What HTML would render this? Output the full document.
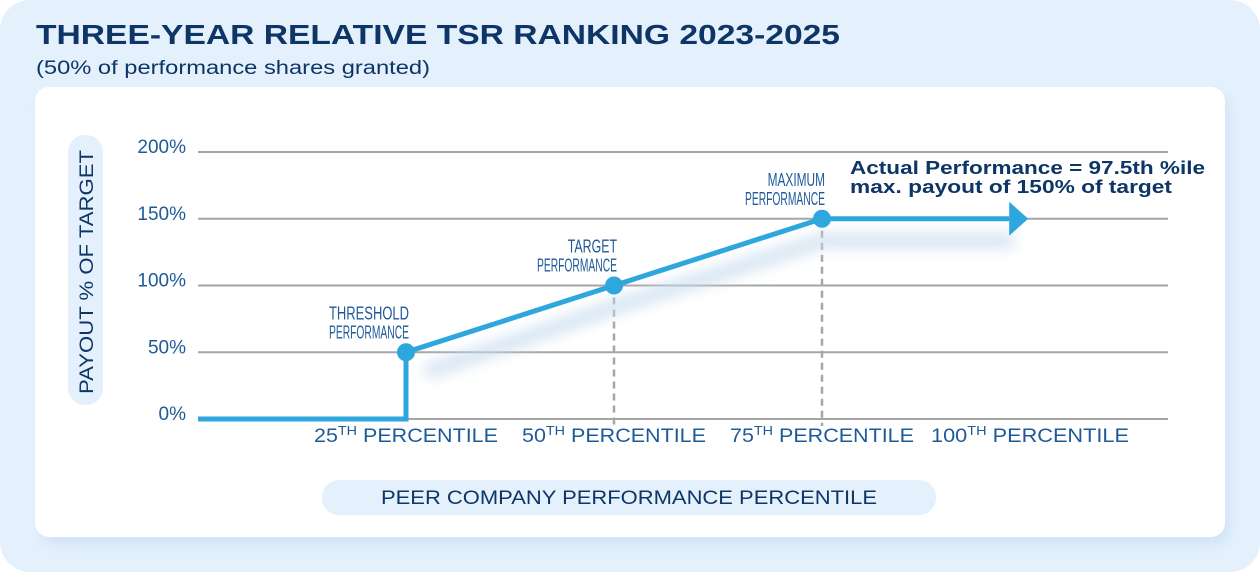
<!DOCTYPE html>
<html><head><meta charset="utf-8"><style>
html,body{margin:0;padding:0;background:#fff;}
body{width:1260px;height:572px;overflow:hidden;font-family:"Liberation Sans",sans-serif;}
</style></head><body>
<svg id="c" width="1260" height="572" xmlns="http://www.w3.org/2000/svg">
<defs>
<filter id="blur" x="-20%" y="-50%" width="140%" height="200%"><feGaussianBlur stdDeviation="7"/></filter>
<filter id="sh" x="-5%" y="-5%" width="110%" height="120%"><feGaussianBlur stdDeviation="6"/></filter>
</defs>
<rect x="0" y="0" width="1260" height="572" rx="30" fill="#e4f1fc"/>
<rect x="40" y="95" width="1190" height="450" rx="14" fill="#c9dff2" filter="url(#sh)" opacity="0.7"/>
<rect x="35" y="87" width="1190" height="450" rx="14" fill="#ffffff"/>
<text x="36" y="44" font-size="28" font-weight="bold" fill="#0d3566" textLength="804" lengthAdjust="spacingAndGlyphs">THREE-YEAR RELATIVE TSR RANKING 2023-2025</text>
<text x="36" y="74" font-size="19" fill="#0d3566" textLength="394" lengthAdjust="spacingAndGlyphs">(50% of performance shares granted)</text>
<rect x="68" y="135" width="35" height="270" rx="17" fill="#e4f1fc"/>
<text transform="translate(93,272) rotate(-90)" text-anchor="middle" font-size="19" fill="#0d3566" textLength="244" lengthAdjust="spacingAndGlyphs">PAYOUT % OF TARGET</text>
<rect x="322" y="480" width="614" height="35" rx="17" fill="#e4f1fc"/>
<text x="629" y="504" text-anchor="middle" font-size="19" fill="#0d3566" textLength="496" lengthAdjust="spacingAndGlyphs">PEER COMPANY PERFORMANCE PERCENTILE</text>
<g id="grid"></g><g id="marks"></g>
<text x="850" y="174" font-size="18" font-weight="bold" fill="#0d3566" textLength="355" lengthAdjust="spacingAndGlyphs">Actual Performance = 97.5th %ile</text>
<text x="850" y="193" font-size="18" font-weight="bold" fill="#0d3566" textLength="322" lengthAdjust="spacingAndGlyphs">max. payout of 150% of target</text>
</svg>
<script>
const yTicks=[0,50,100,150,200];
const xTicks=[25,50,75,100];
const pctX=[0,25,25,50,75];
const payY=[0,0,50,100,150];
const pointX=[25,50,75];
const pointY=[50,100,150];
const pointLabels=[["THRESHOLD","PERFORMANCE"],["TARGET","PERFORMANCE"],["MAXIMUM","PERFORMANCE"]];
const actualPct=97.5;
const NS="http://www.w3.org/2000/svg";
const X=p=>198+p*8.32, Y=v=>419-v*1.335;
function mk(tag,at,parent){const e=document.createElementNS(NS,tag);for(const k in at)e.setAttribute(k,at[k]);parent.appendChild(e);return e;}
const g=document.getElementById('grid'), m=document.getElementById('marks');
yTicks.forEach(v=>{
 const l=mk('line',{x1:198,x2:1168,y1:Y(v),y2:Y(v),stroke:'#a6a6a6','stroke-width':2},g);
 
 
 const t=mk('text',{x:186,y:Y(v)+1,'text-anchor':'end','font-size':19,fill:'#1e5a9a'},g);
 t.textContent=v+'%';
 
 
});
xTicks.forEach(p=>{
 const t=mk('text',{x:X(p),y:442,'text-anchor':'middle','font-size':19.5,fill:'#1e5a9a',textLength:(p==100?198:184),lengthAdjust:'spacingAndGlyphs'},g);
 t.innerHTML=p+'<tspan font-size="13" dy="-7">TH</tspan><tspan dy="7"> PERCENTILE</tspan>';
 
 
});
pointX.slice(1).forEach((p,i)=>{
 const l=mk('line',{x1:X(p),x2:X(p),y1:Y(pointY[i+1]),y2:426,stroke:'#a6a6a6','stroke-width':2.5,'stroke-dasharray':'7,5'},m);
 
 
});
const sh=mk('polyline',{points:[[X(25)+20,Y(50)+20],[X(50),Y(100)+22],[X(75),Y(150)+22],[X(actualPct)+5,Y(150)+22]].map(a=>a.join(',')).join(' '),fill:'none',stroke:'#c8dcef','stroke-width':14,filter:'url(#blur)',opacity:0.8},m);


const pts=pctX.map((p,i)=>X(p)+','+Y(payY[i])).concat([X(actualPct)+','+Y(150)]).join(' ');
const pl=mk('polyline',{points:pts,fill:'none',stroke:'#2ea6de','stroke-width':5,'stroke-linejoin':'miter'},m);


const ax=X(actualPct);
const ar=mk('polygon',{points:`${ax},${Y(150)-17} ${ax+19},${Y(150)} ${ax},${Y(150)+17}`,fill:'#2ea6de'},m);


pointX.forEach((p,i)=>{
 const c=mk('circle',{cx:X(p),cy:Y(pointY[i]),r:9,fill:'#2ea6de'},m);
 
 
 pointLabels[i].forEach((s,j)=>{
  const w=s.length>8?80:(s.length*8.2);
  const t=mk('text',{x:X(p)+3,y:Y(pointY[i])-33+j*19,'text-anchor':'end','font-size':18,fill:'#1e5a9a',textLength:w,lengthAdjust:'spacingAndGlyphs'},m);
  t.textContent=s;
  
  
 });
});
</script>
</body></html>
